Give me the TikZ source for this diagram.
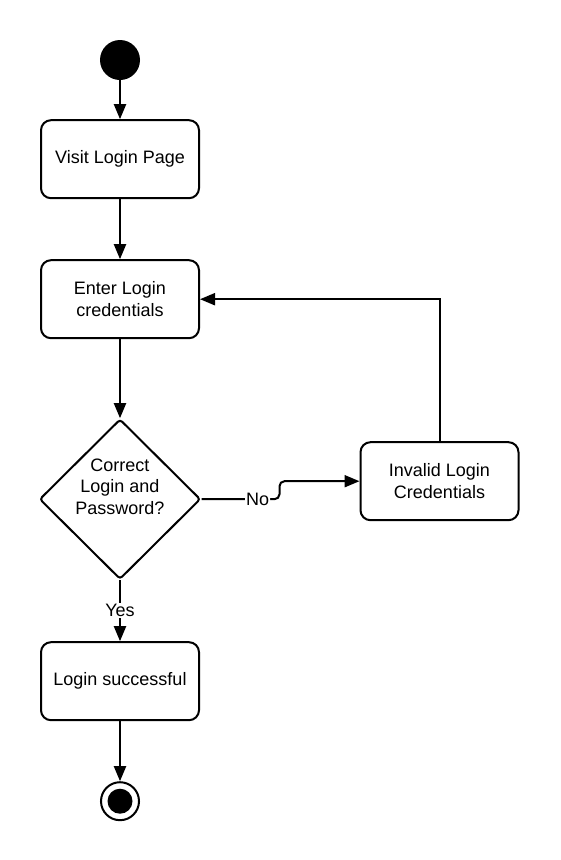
\documentclass[tikz,border=0pt]{standalone}
\usepackage{fontspec}
\setmainfont{Liberation Sans}
\usetikzlibrary{shapes.geometric,arrows.meta,positioning}
\tikzset{
  act/.style={rectangle, draw, line width=2pt, rounded corners=10pt, minimum width=158pt, minimum height=78pt, align=center, font=\fontsize{18pt}{21.5pt}\selectfont, inner sep=2pt},
  decide/.style={diamond, draw, line width=2pt, rounded corners=3pt, minimum width=161pt, minimum height=160pt, inner sep=-10pt, align=center, font=\fontsize{18pt}{21.5pt}\selectfont},
  startnode/.style={circle, fill=black, minimum size=40pt, inner sep=0pt},
  endnode/.style={circle, draw, line width=2pt, minimum size=38pt, inner sep=0pt,
    path picture={\fill (path picture bounding box.center) circle (12.5pt);}},
  lbl/.style={fill=white, inner sep=1pt, font=\fontsize{18pt}{21.5pt}\selectfont},
  arr/.style={-{Triangle[length=15pt,width=12pt]}, line width=2pt}
}

\begin{document}
\begin{tikzpicture}
\useasboundingbox[fill=white] (0,0) rectangle (560pt,-860pt);
\node[startnode] (start) at (120pt,-60pt) {};
\node[act, below=39pt of start] (visit) {Visit Login Page};
\node[act, below=60pt of visit] (enter) {Enter Login\\credentials};
\node[decide, below=79pt of enter] (check) {Correct\\Login and\\Password?\\[4pt]};
\node[act, below=61pt of check] (ok) {Login successful};
\node[endnode, below=60pt of ok] (stop) {};
\node[act, right=158pt of check, yshift=18pt] (bad) {Invalid Login\\Credentials};

\draw[arr] (start) -- (visit);
\draw[arr] (visit) -- (enter);
\draw[arr] (enter) -- (check);
\draw[arr] (check) -- node[lbl] (yes) {Yes} (ok);
\draw[arr] (ok) -- (stop);
\draw[arr, rounded corners=5pt] (check.east) -- node[lbl, pos=0.72] (no) {No} ++(78pt,0) |- (bad.west);
\draw[arr] (bad.north) |- (enter.east);
\end{tikzpicture}
\end{document}
